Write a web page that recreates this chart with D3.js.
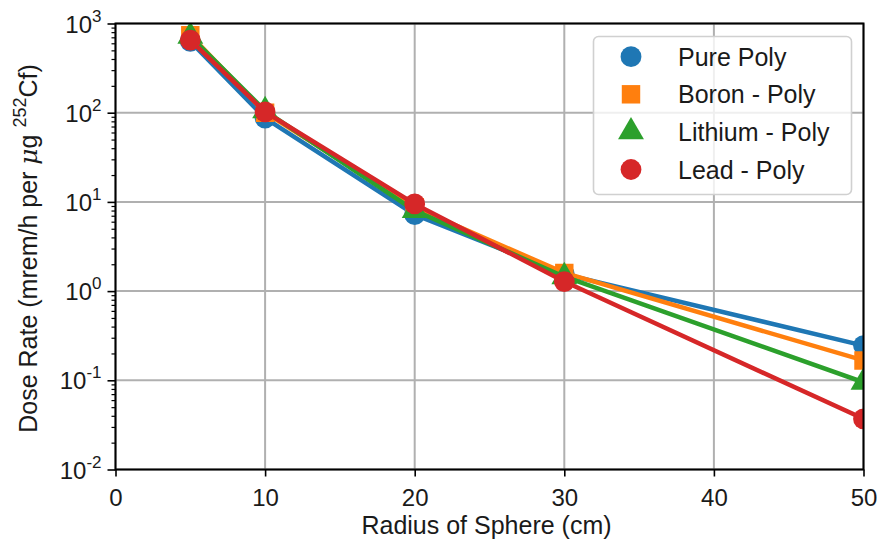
<!DOCTYPE html>
<html>
<head>
<meta charset="utf-8">
<script src="https://cdn.jsdelivr.net/npm/d3@7"></script>
<style>
  html, body { margin: 0; padding: 0; background: #fff; }
  svg { display: block; font-family: "Liberation Sans", Arial, sans-serif; }
</style>
</head>
<body>
<svg id="chart" width="877" height="549"></svg>
<script>
// Sphere radii (cm)
const radii = [5, 10, 20, 30, 50];

// Dose rate per microgram of Cf-252 (mrem/h) for each shielding material
const purePoly    = [630, 87, 7.2, 1.55, 0.245];
const boronPoly   = [740, 100, 8.7, 1.6, 0.167];
const lithiumPoly = [720, 105, 8.0, 1.45, 0.095];
const leadPoly    = [650, 102, 9.5, 1.28, 0.037];

const seriesNames = ["Pure Poly", "Boron - Poly", "Lithium - Poly", "Lead - Poly"];
const seriesColors = ["#1f77b4", "#ff7f0e", "#2ca02c", "#d62728"];
const seriesShapes = ["circle", "square", "triangle", "circle"];

const xTicks = [0, 10, 20, 30, 40, 50];
const yExponents = [-2, -1, 0, 1, 2, 3];

const series = [purePoly, boronPoly, lithiumPoly, leadPoly].map((vals, i) => ({
  name: seriesNames[i], color: seriesColors[i], shape: seriesShapes[i],
  points: radii.map((r, j) => ({ r, v: vals[j] }))
}));

const svg = d3.select("#chart");
const m = { left: 115.5, right: 863.5, top: 23.5, bottom: 469.5 };

const x = d3.scaleLinear().domain([0, 50]).range([m.left, m.right]);
const y = d3.scaleLog().domain([1e-2, 1e3]).range([m.bottom, m.top]);

// Grid
const grid = svg.append("g");
grid.selectAll("line.gx").data(xTicks).join("line")
  .attr("x1", d => x(d)).attr("x2", d => x(d))
  .attr("y1", m.top).attr("y2", m.bottom)
  .attr("stroke", "#b0b0b0").attr("stroke-width", 2);
grid.selectAll("line.gy").data(yExponents).join("line")
  .attr("x1", m.left).attr("x2", m.right)
  .attr("y1", d => y(Math.pow(10, d))).attr("y2", d => y(Math.pow(10, d)))
  .attr("stroke", "#b0b0b0").attr("stroke-width", 2);

// Clip region for data
svg.append("clipPath").attr("id", "plotclip")
  .append("rect").attr("x", m.left).attr("y", m.top)
  .attr("width", m.right - m.left).attr("height", m.bottom - m.top);

const line = d3.line().x(d => x(d.r)).y(d => y(d.v));
const symSize = { circle: 340, square: 340, triangle: 290 };
const symType = { circle: d3.symbolCircle, square: d3.symbolSquare, triangle: d3.symbolTriangle };

const data = svg.append("g").attr("clip-path", "url(#plotclip)");
series.forEach(s => {
  const g = data.append("g");
  g.append("path").datum(s.points).attr("d", line)
    .attr("fill", "none").attr("stroke", s.color).attr("stroke-width", 4.5)
    .attr("stroke-linejoin", "round");
  g.selectAll("path.mk").data(s.points).join("path")
    .attr("class", "mk")
    .attr("d", d3.symbol().type(symType[s.shape]).size(symSize[s.shape]))
    .attr("transform", d => `translate(${x(d.r)},${y(d.v)})`)
    .attr("fill", s.color);
});

// Axes
const xAxis = d3.axisBottom(x).tickValues(xTicks).tickSize(7).tickPadding(8).tickFormat(d3.format("d"));
const gx = svg.append("g").attr("transform", `translate(0,${m.bottom})`).call(xAxis);
gx.select(".domain").remove();
gx.selectAll(".tick line").attr("stroke", "#000").attr("stroke-width", 1.6);
gx.selectAll(".tick text").attr("font-size", 24).attr("fill", "#1a1a1a")
  .attr("dy", null).attr("y", 36);

const minorVals = [];
for (let e = -2; e < 3; e++) for (let k = 2; k <= 9; k++) minorVals.push(k * Math.pow(10, e));
const gyMinor = svg.append("g").attr("transform", `translate(${m.left},0)`)
  .call(d3.axisLeft(y).tickValues(minorVals).tickSize(4).tickFormat(""));
gyMinor.select(".domain").remove();
gyMinor.selectAll(".tick line").attr("stroke", "#000").attr("stroke-width", 1.2);

const gy = svg.append("g").attr("transform", `translate(${m.left},0)`)
  .call(d3.axisLeft(y).tickValues(yExponents.map(e => Math.pow(10, e))).tickSize(8).tickFormat(""));
gy.select(".domain").remove();
gy.selectAll(".tick line").attr("stroke", "#000").attr("stroke-width", 1.6);
gy.selectAll(".tick").each(function(d) {
  const e = Math.round(Math.log10(d));
  const t = d3.select(this).append("text")
    .attr("x", -14).attr("y", 8.5).attr("text-anchor", "end")
    .attr("font-size", 24).attr("fill", "#1a1a1a");
  t.append("tspan").text("10");
  t.append("tspan").attr("font-size", 17).attr("dy", -11).text(String(e));
});

// Frame
svg.append("rect").attr("x", m.left).attr("y", m.top)
  .attr("width", m.right - m.left).attr("height", m.bottom - m.top)
  .attr("fill", "none").attr("stroke", "#000").attr("stroke-width", 2);

// Axis labels
svg.append("text").attr("x", (m.left + m.right) / 2 - 3).attr("y", 534)
  .attr("text-anchor", "middle").attr("font-size", 25).attr("fill", "#1a1a1a")
  .text("Radius of Sphere (cm)");

const yl = svg.append("text").attr("transform", `translate(37,${(m.top + m.bottom) / 2 + 2}) rotate(-90)`)
  .attr("text-anchor", "middle").attr("font-size", 25).attr("fill", "#1a1a1a");
yl.append("tspan").text("Dose Rate (mrem/h per ");
yl.append("tspan").attr("font-style", "italic").attr("font-family", "'DejaVu Serif', serif").text("μ");
yl.append("tspan").text("g ");
yl.append("tspan").attr("font-size", 18).attr("dy", -11).text("252");
yl.append("tspan").attr("dy", 11).text("Cf)");

// Legend
const lg = svg.append("g");
lg.append("rect").attr("x", 593.5).attr("y", 36.5).attr("width", 258).attr("height", 158)
  .attr("rx", 5).attr("fill", "#fff").attr("fill-opacity", 0.8)
  .attr("stroke", "#d0d0d0").attr("stroke-width", 1.6);
series.forEach((s, i) => {
  const cy = 56.7 + i * 37.6;
  lg.append("path")
    .attr("d", d3.symbol().type(symType[s.shape]).size(symSize[s.shape])())
    .attr("transform", `translate(631,${cy})`).attr("fill", s.color);
  lg.append("text").attr("x", 678).attr("y", cy + 9)
    .attr("font-size", 25).attr("fill", "#1a1a1a").text(s.name);
});
</script>
</body>
</html>
